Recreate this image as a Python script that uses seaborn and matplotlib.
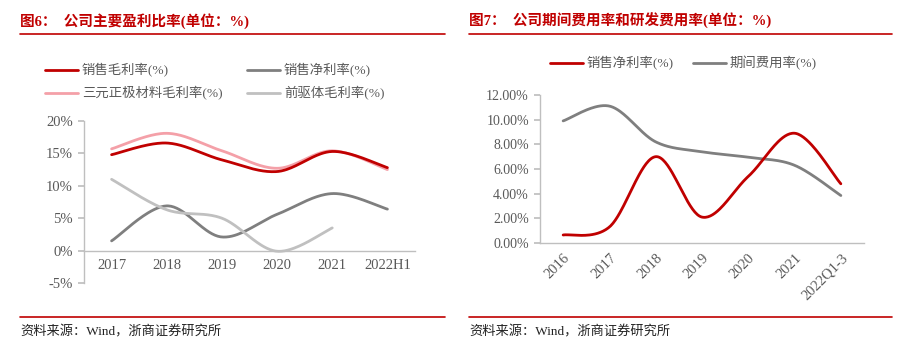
import numpy as np
import pandas as pd
import matplotlib
matplotlib.use("Agg")
import matplotlib.pyplot as plt
import seaborn as sns
from matplotlib.lines import Line2D

sns.set_theme(style="white")
FAM = ['Liberation Serif', 'Noto Sans CJK SC', 'DejaVu Sans']
plt.rcParams['font.family'] = FAM

# ---------------- data ----------------
left_cats = ["2017", "2018", "2019", "2020", "2021", "2022H1"]
gross_margin = [14.8, 16.6, 14.0, 12.2, 15.3, 12.8]
cathode_margin = [15.7, 18.1, 15.4, 12.7, 15.4, 12.5]
net_margin_l = [1.5, 6.9, 2.1, 5.6, 8.8, 6.4]
precursor_margin = [11.0, 6.3, 5.0, -0.1, 3.5]

right_cats = ["2016", "2017", "2018", "2019", "2020", "2021", "2022Q1-3"]
net_margin_r = [0.65, 1.3, 7.0, 2.1, 5.4, 8.9, 4.8]
expense_ratio = [9.9, 11.1, 8.2, 7.4, 6.95, 6.3, 3.85]

left_yticks = [-5, 0, 5, 10, 15, 20]
right_yticks = [0, 2, 4, 6, 8, 10, 12]

DARKRED = "#C00000"
PINK = "#F4A0A8"
DGRAY = "#7F7F7F"
LGRAY = "#C0C0C0"
TICKC = "#595959"
SPINE = "#BFBFBF"


def smooth(vals, n=40):
    """Catmull-Rom smoothing (like Excel's smoothed line)."""
    y = np.asarray(vals, float)
    x = np.arange(len(y), dtype=float)
    px = np.concatenate([[x[0]], x, [x[-1]]])
    py = np.concatenate([[y[0]], y, [y[-1]]])
    xs, ys = [], []
    t = np.linspace(0, 1, n)
    for i in range(1, len(px) - 2):
        p0x, p1x, p2x, p3x = px[i - 1], px[i], px[i + 1], px[i + 2]
        p0y, p1y, p2y, p3y = py[i - 1], py[i], py[i + 1], py[i + 2]
        c1x, c1y = p1x + (p2x - p0x) / 6, p1y + (p2y - p0y) / 6
        c2x, c2y = p2x - (p3x - p1x) / 6, p2y - (p3y - p1y) / 6
        bx = (1 - t) ** 3 * p1x + 3 * (1 - t) ** 2 * t * c1x + 3 * (1 - t) * t ** 2 * c2x + t ** 3 * p2x
        by = (1 - t) ** 3 * p1y + 3 * (1 - t) ** 2 * t * c1y + 3 * (1 - t) * t ** 2 * c2y + t ** 3 * p2y
        xs.append(bx if i == 1 else bx[1:])
        ys.append(by if i == 1 else by[1:])
    return np.concatenate(xs), np.concatenate(ys)


def draw(ax, vals, color, lw=2.0):
    xs, ys = smooth(vals)
    df = pd.DataFrame({"x": xs, "y": ys})
    sns.lineplot(data=df, x="x", y="y", ax=ax, color=color, lw=lw,
                 sort=False, estimator=None, legend=False)


W, H = 907, 360
fig = plt.figure(figsize=(W / 100, H / 100), dpi=100)


def fx(px):
    return px / W


def fy(py):
    return 1 - py / H


def hline(x0, x1, y, color, lw):
    fig.add_artist(Line2D([fx(x0), fx(x1)], [fy(y), fy(y)], color=color, lw=lw,
                          transform=fig.transFigure))


# ---------------- titles / rules / footers ----------------
fig.text(fx(20), fy(21), "图6：  公司主要盈利比率(单位：%)", color=DARKRED,
         fontsize=10.5, fontweight="bold", va="center", ha="left", family=FAM)
fig.text(fx(469), fy(21), "图7：  公司期间费用率和研发费用率(单位：%)", color=DARKRED,
         fontsize=10.5, fontweight="bold", va="center", ha="left", family=FAM)
hline(20, 445, 34, DARKRED, 1.2)
hline(469, 892, 34, DARKRED, 1.2)
hline(20, 445, 317, DARKRED, 1.2)
hline(469, 892, 317, DARKRED, 1.2)
fig.text(fx(20), fy(332), "资料来源：Wind，浙商证券研究所", color="#222222",
         fontsize=9.5, va="center", ha="left", family=FAM)
fig.text(fx(469), fy(332), "资料来源：Wind，浙商证券研究所", color="#222222",
         fontsize=9.5, va="center", ha="left", family=FAM)


# ---------------- legends ----------------
def legend_item(x0, y, color, label):
    hline(x0, x0 + 33, y, color, 2.0)
    fig.text(fx(x0 + 37), fy(y), label, color=TICKC, fontsize=9.6,
             va="center", ha="left", family=FAM)


legend_item(45, 70, DARKRED, "销售毛利率(%)")
legend_item(247, 70, DGRAY, "销售净利率(%)")
legend_item(45, 93, PINK, "三元正极材料毛利率(%)")
legend_item(247, 93, LGRAY, "前驱体毛利率(%)")
legend_item(550, 63, DARKRED, "销售净利率(%)")
legend_item(693, 63, DGRAY, "期间费用率(%)")


def style_axes(ax):
    for s in ["top", "right"]:
        ax.spines[s].set_visible(False)
    for s in ["left", "bottom"]:
        ax.spines[s].set_color(SPINE)
        ax.spines[s].set_linewidth(1.0)
    ax.set_xlabel("")
    ax.set_ylabel("")
    ax.grid(False)
    ax.set_facecolor("none")


# ---------------- left chart ----------------
axL = fig.add_axes([fx(84), fy(283), (415 - 84) / W, (283 - 121) / H])
draw(axL, cathode_margin, PINK)
draw(axL, gross_margin, DARKRED)
draw(axL, net_margin_l, DGRAY)
draw(axL, precursor_margin, LGRAY)
axL.set_xlim(-0.5, len(left_cats) - 0.5)
axL.set_ylim(-5, 20)
style_axes(axL)
axL.spines["bottom"].set_position(("data", 0))
axL.set_yticks(left_yticks)
axL.set_yticklabels([f"{v}%" for v in left_yticks])
axL.set_xticks(range(len(left_cats)))
axL.set_xticklabels(left_cats)
axL.set_xticks(np.arange(-0.5, len(left_cats), 1.0), minor=True)
axL.tick_params(axis="x", which="major", length=0, pad=6, labelsize=10.5, labelcolor=TICKC)
axL.tick_params(axis="x", which="minor", length=4, color=SPINE, direction="out")
axL.tick_params(axis="y", length=4, color=SPINE, labelsize=10.5, labelcolor=TICKC,
                pad=4, left=True)

# ---------------- right chart ----------------
axR = fig.add_axes([fx(540), fy(243), (864 - 540) / W, (243 - 95) / H])
draw(axR, expense_ratio, DGRAY)
draw(axR, net_margin_r, DARKRED)
axR.set_xlim(-0.5, len(right_cats) - 0.5)
axR.set_ylim(0, 12)
style_axes(axR)
axR.set_yticks(right_yticks)
axR.set_yticklabels([f"{v:.2f}%" for v in right_yticks])
axR.set_xticks(range(len(right_cats)))
axR.set_xticklabels(right_cats, rotation=45, ha="right", va="top",
                    rotation_mode="anchor")
axR.set_xticks(np.arange(-0.5, len(right_cats), 1.0), minor=True)
axR.tick_params(axis="x", which="major", length=0, pad=6, labelsize=10.5, labelcolor=TICKC)
axR.tick_params(axis="x", which="minor", length=4, color=SPINE, direction="out")
axR.tick_params(axis="y", length=4, color=SPINE, labelsize=10, labelcolor=TICKC,
                pad=4, left=True)

fig.savefig("out.png", dpi=100)
